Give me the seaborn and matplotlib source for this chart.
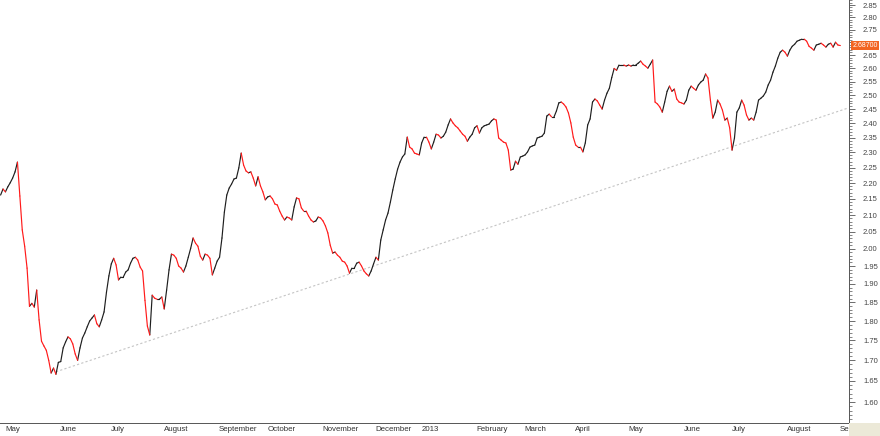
import numpy as np
import pandas as pd
import seaborn as sns
import matplotlib
matplotlib.use("Agg")
import matplotlib.pyplot as plt
import matplotlib.ticker as mticker
import matplotlib.transforms as mtransforms
from matplotlib.patches import Rectangle

# daily closes, 30 Apr 2012 .. 3 Sep 2013
start_date = "2012-04-30"
holidays = ["2012-12-25", "2012-12-26"]
close = [
    2.162, 2.181, 2.172, 2.188, 2.201, 2.216, 2.236, 2.268, 2.159, 2.055,
    2.007, 1.944, 1.839, 1.847, 1.837, 1.883, 1.803, 1.748, 1.736, 1.725,
    1.700, 1.669, 1.681, 1.666,
    # June 2012
    1.695, 1.697, 1.731, 1.746, 1.759, 1.754, 1.741, 1.716, 1.700, 1.731,
    1.756, 1.769, 1.785, 1.800, 1.808, 1.816, 1.793, 1.785, 1.803, 1.824,
    1.877,
    # July
    1.922, 1.956, 1.972, 1.953, 1.911, 1.919, 1.919, 1.933, 1.939, 1.958,
    1.972, 1.975, 1.967, 1.947, 1.936, 1.855, 1.787, 1.764, 1.869, 1.861,
    1.858, 1.858,
    # August
    1.864, 1.832, 1.883, 1.939, 1.984, 1.981, 1.972, 1.950, 1.944, 1.933,
    1.950, 1.975, 2.001, 2.031, 2.016, 2.007, 1.978, 1.967, 1.984, 1.981,
    1.972, 1.925, 1.944,
    # September
    1.964, 1.975, 2.031, 2.109, 2.162, 2.184, 2.197, 2.213, 2.216, 2.249,
    2.298, 2.258, 2.239, 2.233, 2.236, 2.216, 2.191, 2.220, 2.191, 2.172,
    # October
    2.147, 2.156, 2.159, 2.150, 2.134, 2.131, 2.112, 2.097, 2.085, 2.094,
    2.091, 2.085, 2.125, 2.153, 2.150, 2.122, 2.112, 2.112, 2.097, 2.085,
    2.079, 2.082, 2.094,
    # November
    2.091, 2.082, 2.067, 2.046, 2.010, 1.987, 1.990, 1.981, 1.975, 1.964,
    1.961, 1.950, 1.930, 1.944, 1.944, 1.958, 1.961, 1.950, 1.936, 1.928,
    1.922, 1.936,
    # December
    1.956, 1.975, 1.967, 2.025, 2.055, 2.085, 2.106, 2.140, 2.178, 2.213,
    2.245, 2.268, 2.285, 2.295, 2.352, 2.318, 2.312, 2.298, 2.295,
    # January 2013
    2.292, 2.332, 2.352, 2.352, 2.335, 2.312, 2.335, 2.362, 2.359, 2.349,
    2.355, 2.369, 2.394, 2.415, 2.401, 2.391, 2.384, 2.373, 2.362, 2.355,
    2.338, 2.352, 2.362,
    # February
    2.384, 2.391, 2.366, 2.384, 2.391, 2.394, 2.397, 2.408, 2.415, 2.411,
    2.349, 2.342, 2.335, 2.332, 2.308, 2.242, 2.245, 2.271, 2.261, 2.285,
    # March
    2.288, 2.292, 2.302, 2.318, 2.322, 2.325, 2.349, 2.352, 2.355, 2.366,
    2.425, 2.432, 2.422, 2.422, 2.443, 2.472, 2.475, 2.468, 2.457, 2.436,
    2.401,
    # April
    2.352, 2.325, 2.318, 2.318, 2.302, 2.332, 2.394, 2.415, 2.475, 2.486,
    2.479, 2.464, 2.450, 2.482, 2.507, 2.525, 2.565, 2.599, 2.592, 2.612,
    2.612, 2.612,
    # May
    2.608, 2.612, 2.608, 2.612, 2.612, 2.619, 2.627, 2.615, 2.608, 2.600,
    2.615, 2.631, 2.475, 2.468, 2.457, 2.439, 2.475, 2.514, 2.533, 2.514,
    2.522, 2.486, 2.475,
    # June
    2.472, 2.468, 2.482, 2.518, 2.533, 2.525, 2.518, 2.537, 2.548, 2.555,
    2.578, 2.563, 2.482, 2.418, 2.439, 2.482, 2.468, 2.446, 2.411, 2.418,
    # July
    2.384, 2.308, 2.349, 2.439, 2.454, 2.482, 2.464, 2.429, 2.411, 2.418,
    2.411, 2.439, 2.482, 2.489, 2.497, 2.511, 2.537, 2.555, 2.585, 2.608,
    2.638, 2.661, 2.669,
    # August
    2.661, 2.646, 2.669, 2.684, 2.692, 2.704, 2.708, 2.712, 2.712, 2.704,
    2.684, 2.677, 2.669, 2.689, 2.692, 2.696, 2.689, 2.681, 2.692, 2.696,
    2.681, 2.700,
    # September
    2.689, 2.687,
]
month_labels = ["May", "June", "July", "August", "September", "October",
                "November", "December", "2013", "February", "March", "April",
                "May", "June", "July", "August", "September"]
y_ticks = [1.60, 1.65, 1.70, 1.75, 1.80, 1.85, 1.90, 1.95, 2.00, 2.05, 2.10,
           2.15, 2.20, 2.25, 2.30, 2.35, 2.40, 2.45, 2.50, 2.55, 2.60, 2.65,
           2.70, 2.75, 2.80, 2.85]
# 2.70 sits under the last-price tag, so no label shows there
y_tick_labels = ["1.60", "1.65", "1.70", "1.75", "1.80", "1.85", "1.90",
                 "1.95", "2.00", "2.05", "2.10", "2.15", "2.20", "2.25",
                 "2.30", "2.35", "2.40", "2.45", "2.50", "2.55", "2.60",
                 "2.65", "", "2.75", "2.80", "2.85"]
last_label = "2.68700"
trend_dates = ["2012-05-31", "2013-09-06"]
trend_values = [1.672, 2.453]

dates = pd.bdate_range(start_date, periods=len(close), freq="C", holidays=holidays)
all_days = pd.bdate_range(start_date, periods=len(close) + 10, freq="C", holidays=holidays)
trend_pos = [all_days.get_loc(pd.Timestamp(d)) for d in trend_dates]

# one 2-point segment per day, coloured by direction
rows = []
for i in range(len(close) - 1):
    d = "down" if close[i + 1] < close[i] else "up"
    rows.append((i, i, close[i], d))
    rows.append((i, i + 1, close[i + 1], d))
seg_df = pd.DataFrame(rows, columns=["seg", "x", "price", "dir"])

sns.set_style("white")
plt.rcParams["font.family"] = ["Liberation Sans", "DejaVu Sans"]

fig = plt.figure(figsize=(8.8, 4.36), dpi=100)
ax = fig.add_axes([0, 13 / 436, 849 / 880, 423 / 436])
ax.set_yscale("log")

sns.lineplot(x=trend_pos, y=trend_values, color="#c4c4c4", linewidth=0.8,
             linestyle=(0, (2, 2)), ax=ax)
sns.lineplot(data=seg_df, x="x", y="price", hue="dir", units="seg",
             estimator=None, sort=False, legend=False, linewidth=0.85,
             palette={"up": "#1e1e1e", "down": "#ff1a1a"}, ax=ax)

ax.set_xlim(-0.25, 352.6)
ax.set_ylim(1.552, 2.871)
ax.set_xlabel("")
ax.set_ylabel("")

for s in ["left", "top"]:
    ax.spines[s].set_visible(False)
for s in ["right", "bottom"]:
    ax.spines[s].set_color("#555555")
    ax.spines[s].set_linewidth(0.7)

# right price axis
ax.yaxis.tick_right()
ax.yaxis.set_major_locator(mticker.FixedLocator(y_ticks))
ax.yaxis.set_major_formatter(mticker.FixedFormatter(y_tick_labels))
ax.yaxis.set_minor_locator(mticker.FixedLocator(np.arange(1.55, 2.875, 0.01)))
ax.yaxis.set_minor_formatter(mticker.NullFormatter())
ax.tick_params(axis="y", which="major", direction="out", length=4.3, width=0.6,
               color="#555555", labelcolor="#444444", labelsize=5.5, pad=5.8)
ax.tick_params(axis="y", which="minor", direction="out", length=2.2, width=0.5,
               color="#555555")

# month dividers + weekly ticks
m = dates.to_period("M")
month_pos = list(np.where(m[1:] != m[:-1])[0] + 1)
week_pos = np.where(dates.dayofweek == 0)[0]
ax.xaxis.set_major_locator(mticker.FixedLocator(month_pos))
ax.xaxis.set_major_formatter(mticker.FixedFormatter(month_labels))
ax.xaxis.set_minor_locator(mticker.FixedLocator(week_pos))
ax.tick_params(axis="x", which="major", direction="out", length=9.4, width=0.6,
               color="#555555", labelcolor="#333333", labelsize=5.7, pad=-7.2)
ax.tick_params(axis="x", which="minor", direction="in", length=2.2, width=0.5,
               color="#555555")
shift = mtransforms.ScaledTranslation(2 / 100, 0, fig.dpi_scale_trans)
for lbl in ax.get_xticklabels():
    lbl.set_horizontalalignment("left")
    lbl.set_transform(lbl.get_transform() + shift)

# last price tag
ax.annotate(last_label, xy=(1, close[-1]), xycoords=("axes fraction", "data"),
            xytext=(2.6, 0), textcoords="offset points", ha="left", va="center",
            fontsize=5, color="white", annotation_clip=False, zorder=10,
            bbox=dict(boxstyle="square,pad=0.2", fc="#f26522", ec="none"))

fig.add_artist(Rectangle((849 / 880, 0), 31 / 880, 13 / 436,
                         transform=fig.transFigure, fc="#ece9d8", ec="none",
                         zorder=5))

fig.savefig("out.png", dpi=100)
